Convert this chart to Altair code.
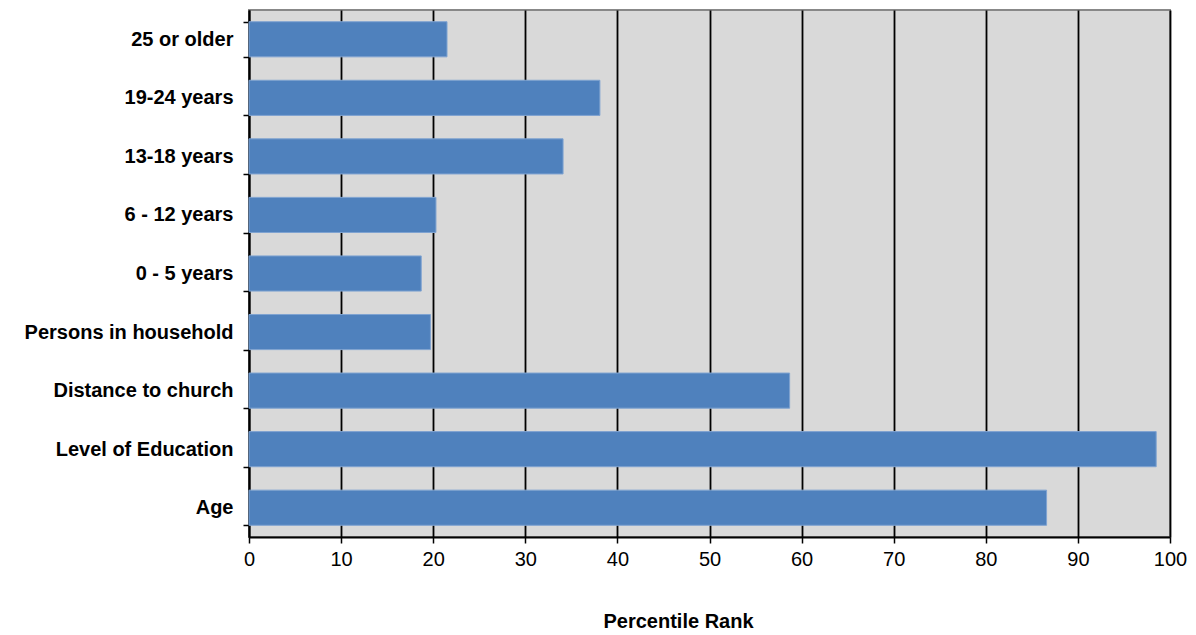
import altair as alt
import pandas as pd

categories = ["25 or older", "19-24 years", "13-18 years", "6 - 12 years", "0 - 5 years",
              "Persons in household", "Distance to church", "Level of Education", "Age"]
values = [21.5, 38.1, 34.1, 20.3, 18.7, 19.7, 58.7, 98.5, 86.6]
x_ticks = [0, 10, 20, 30, 40, 50, 60, 70, 80, 90, 100]

df = pd.DataFrame({"category": categories, "value": values})

FONT = "Liberation Sans"

chart = alt.Chart(df).mark_bar(color="#4F81BD", stroke="#7FA3D1", strokeWidth=1).encode(
    x=alt.X("value:Q", scale=alt.Scale(domain=[0, 100], nice=False),
            axis=alt.Axis(values=x_ticks, title="Percentile Rank", grid=True,
                          gridColor="#000000", gridWidth=1.8,
                          domainColor="#000000", domainWidth=2,
                          tickColor="#000000", tickSize=6, tickWidth=1.5,
                          labelFont=FONT, labelFontSize=20, labelColor="#000000",
                          labelPadding=6, labelFlush=False,
                          titleFont=FONT, titleFontSize=20, titleFontWeight="bold",
                          titleColor="#000000", titleX=429, titleY=90,
                          titleBaseline="alphabetic", titleAlign="center")),
    y=alt.Y("category:N", sort=categories,
            scale=alt.Scale(paddingInner=0.4, paddingOuter=0.2),
            axis=alt.Axis(title=None, tickBand="extent",
                          domainColor="#000000", domainWidth=2,
                          tickColor="#000000", tickSize=6, tickWidth=1.5,
                          labelFont=FONT, labelFontSize=20, labelFontWeight="bold",
                          labelColor="#000000", labelPadding=10, labelLimit=300)),
).properties(
    width=921, height=527,
    padding={"left": 241, "top": 2, "right": 18, "bottom": 96},
    autosize=alt.AutoSizeParams(type="none"),
    background="#FFFFFF",
).configure_view(
    fill="#D9D9D9", stroke="#888888", strokeWidth=2
)

chart.save("out.html", embed_options={"renderer": "svg", "actions": False})
